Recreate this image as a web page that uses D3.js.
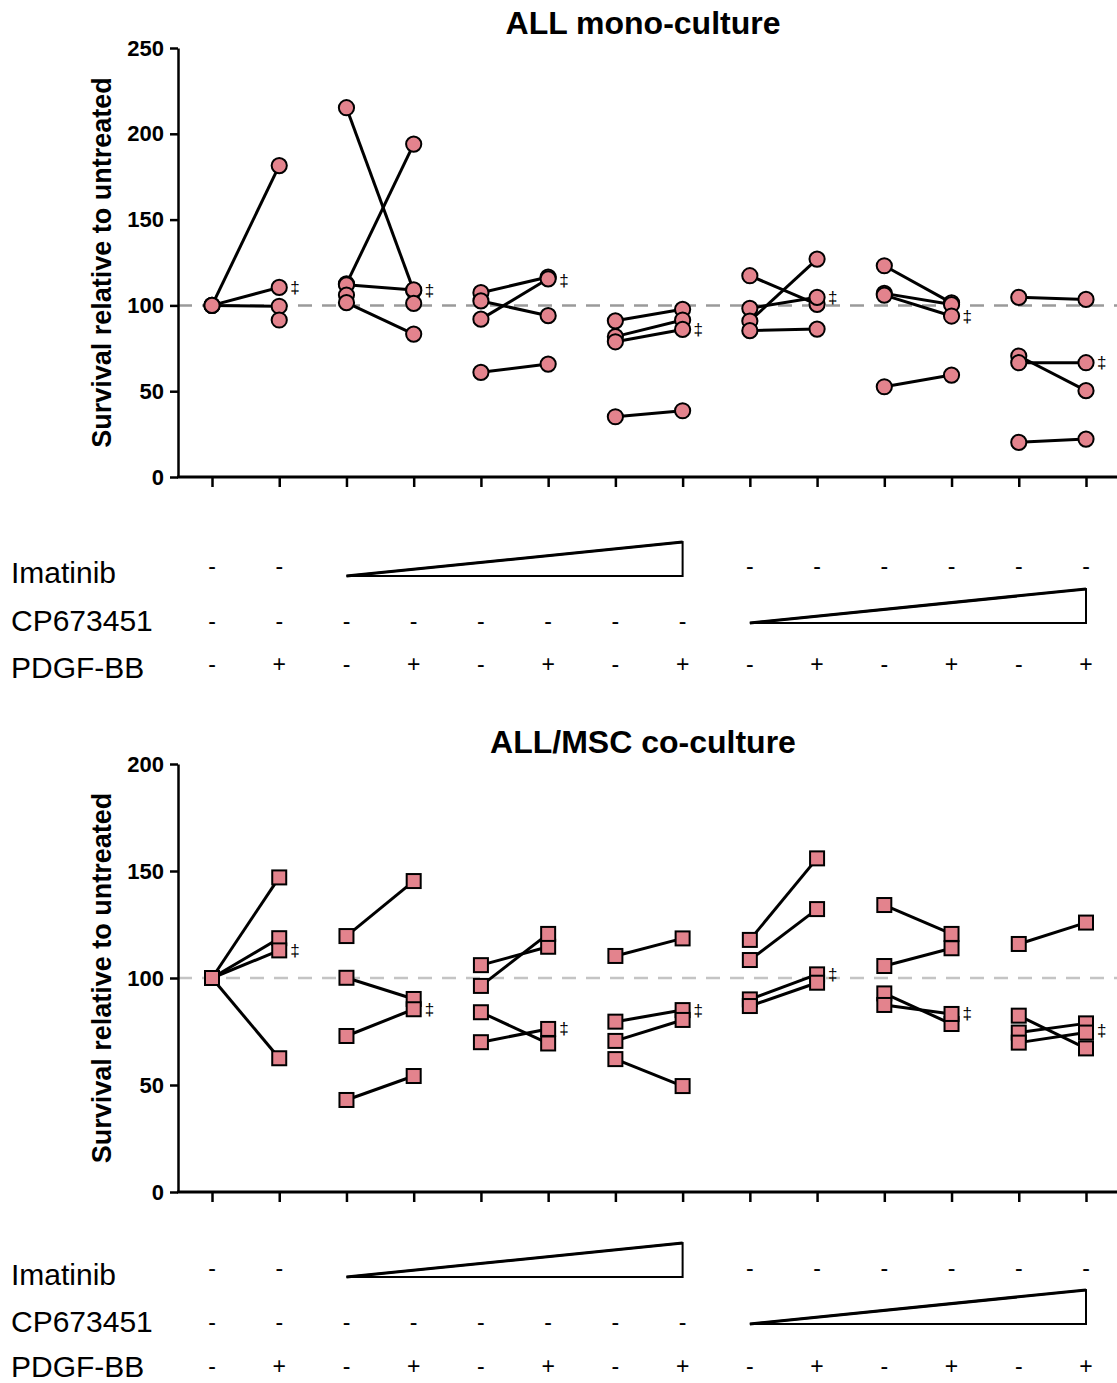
<!DOCTYPE html>
<html>
<head>
<meta charset="utf-8">
<script src="https://cdn.jsdelivr.net/npm/d3@7"></script>
<style>
  body { margin: 0; background: #fff; }
  svg { display: block; font-family: "Liberation Sans", Arial, sans-serif; }
  .tick text { font-weight: bold; font-size: 22px; fill: #000; }
</style>
</head>
<body>
<svg id="chart" width="1117" height="1383"></svg>
<script>
// conditions along the x axis (7 treatment groups, each - / + PDGF-BB)
const conditions = d3.range(14);
const imatinibRow = ["-", "-", "", "", "", "", "", "", "-", "-", "-", "-", "-", "-"];
const cpRow = ["-", "-", "-", "-", "-", "-", "-", "-", "", "", "", "", "", ""];
const pdgfRow = ["-", "+", "-", "+", "-", "+", "-", "+", "-", "+", "-", "+", "-", "+"];
const imatinibRamp = [2, 7];
const cpRamp = [8, 13];
const rowLabels = ["Imatinib", "CP673451", "PDGF-BB"];

// ALL mono-culture: per group, [without PDGF-BB, with PDGF-BB] per replicate
const monoPairs = [
  [[100, 181.5], [100, 110.5], [100, 99.5], [null, 91.5]],
  [[215.2, 108.6], [112.5, 194], [112, 109], [106, null], [101.6, 83.3], [null, 101.2]],
  [[107.4, 116.5], [92, 115.5], [102.6, 94], [61, 65.8]],
  [[91, 97.7], [81.8, 91.5], [78.8, 86], [35.1, 38.6]],
  [[117.3, 100.6], [98.3, 104.7], [90.9, 127], [85.3, 86.2]],
  [[123.1, 101.5], [107, 100.5], [106, 93.8], [52.6, 59.4]],
  [[104.7, 103.5], [70.5, 50.3], [66.6, 66.6], [20.2, 22.1]]
];
const monoDagger = [110.5, 108.6, 114.5, 86, 104.7, 93.8, 66.6];
const monoTicks = [0, 50, 100, 150, 200, 250];

// ALL/MSC co-culture
const coPairs = [
  [[100, 147], [100, 118.6], [100, 112.9], [100, 62.5]],
  [[119.6, 145.3], [100.1, 90.2], [72.9, 85.4], [43, 54.2]],
  [[106, 114.6], [96.3, 120.6], [84, 69.4], [70, 76.2]],
  [[110.3, 118.5], [79.6, 85], [70.6, 80.4], [62.1, 49.5]],
  [[117.8, 155.9], [108.4, 132.2], [90, 101.7], [86.9, 97.8]],
  [[134.1, 120.6], [105.6, 113.9], [92.8, 78.5], [87.4, 83.2]],
  [[115.9, 125.9], [82.4, 67.1], [74.5, 78.8], [69.8, 74.5]]
];
const coDagger = [112.9, 85.4, 76.2, 85, 101.7, 83.2, 75.4];
const coTicks = [0, 50, 100, 150, 200];

const pink = "#e3838d";
const svg = d3.select("#chart");
const x = d3.scalePoint().domain(conditions).range([212, 1086]);
const axisX = 178;

function drawPanel(cfg) {
    const g = svg.append("g");
    const y = d3.scaleLinear().domain([0, cfg.max]).range([cfg.bottom, cfg.top]);

    // reference line at 100
    g.append("line")
        .attr("x1", axisX).attr("x2", 1117)
        .attr("y1", y(100)).attr("y2", y(100))
        .attr("stroke", cfg.refColor).attr("stroke-width", 2.5)
        .attr("stroke-dasharray", "14,10");

    // y axis
    const ya = g.append("g")
        .attr("transform", `translate(${axisX},0)`)
        .call(d3.axisLeft(y).tickValues(cfg.ticks).tickSize(8).tickSizeOuter(0).tickPadding(6));
    ya.select(".domain").attr("stroke-width", 2.5);
    ya.selectAll(".tick line").attr("stroke-width", 2.5);

    // x axis
    const xa = g.append("g")
        .attr("transform", `translate(0,${cfg.bottom})`)
        .call(d3.axisBottom(x).tickFormat("").tickSize(10).tickSizeOuter(0));
    xa.select(".domain").remove();
    xa.selectAll(".tick line").attr("stroke-width", 2.5);
    xa.append("line")
        .attr("x1", axisX - 1).attr("x2", 1117)
        .attr("stroke", "#000").attr("stroke-width", 3);

    // title
    g.append("text")
        .attr("x", 643).attr("y", cfg.titleY)
        .attr("text-anchor", "middle")
        .style("font-weight", "bold").style("font-size", "32px")
        .text(cfg.title);

    // y label
    g.append("text")
        .attr("transform", `translate(111,${(cfg.top + cfg.bottom) / 2}) rotate(-90)`)
        .attr("text-anchor", "middle")
        .style("font-weight", "bold").style("font-size", "27px")
        .text("Survival relative to untreated");

    // connecting lines
    cfg.pairs.forEach((grp, gi) => {
        grp.filter(p => p[0] != null && p[1] != null).forEach(p => {
            g.append("line")
                .attr("x1", x(2 * gi)).attr("y1", y(p[0]))
                .attr("x2", x(2 * gi + 1)).attr("y2", y(p[1]))
                .attr("stroke", "#000").attr("stroke-width", 3);
        });
    });

    // markers
    cfg.pairs.forEach((grp, gi) => {
        grp.forEach(p => {
            p.forEach((v, k) => {
                if (v == null) return;
                const cx = x(2 * gi + k), cy = y(v);
                if (cfg.shape === "circle") {
                    g.append("circle")
                        .attr("cx", cx).attr("cy", cy).attr("r", 7.6)
                        .attr("fill", pink).attr("stroke", "#000").attr("stroke-width", 2);
                } else {
                    g.append("rect")
                        .attr("x", cx - 7).attr("y", cy - 7)
                        .attr("width", 14).attr("height", 14)
                        .attr("fill", pink).attr("stroke", "#000").attr("stroke-width", 2);
                }
            });
        });
    });

    // ‡ markers
    cfg.dagger.forEach((v, gi) => {
        g.append("text")
            .attr("x", x(2 * gi + 1) + 11).attr("y", y(v))
            .attr("dominant-baseline", "central")
            .attr("fill", "#000")
            .style("font-size", "17px")
            .text("\u2021");
    });

    // condition rows
    const rows = [imatinibRow, cpRow, pdgfRow];
    rows.forEach((row, ri) => {
        g.append("text")
            .attr("x", 11).attr("y", cfg.rowBase[ri])
            .style("font-size", "30px")
            .text(rowLabels[ri]);
        g.selectAll(null)
            .data(conditions.filter(c => row[c] !== ""))
            .enter().append("text")
            .attr("x", c => x(c)).attr("y", cfg.symY[ri])
            .attr("text-anchor", "middle")
            .attr("dominant-baseline", "central")
            .style("font-size", "23px")
            .text(c => row[c]);
    });

    // ramps
    [[imatinibRamp, 0], [cpRamp, 1]].forEach(([r, ri]) => {
        const x0 = x(r[0]), x1 = x(r[1]);
        const yb = cfg.rampBase[ri], yt = yb - 34;
        g.append("path")
            .attr("d", `M${x0},${yb}L${x1},${yt}L${x1},${yb}Z`)
            .attr("fill", "#fff").attr("stroke", "#000").attr("stroke-width", 2);
        g.append("line")
            .attr("x1", x0).attr("y1", yb).attr("x2", x1).attr("y2", yt)
            .attr("stroke", "#000").attr("stroke-width", 3);
    });
}

drawPanel({
    title: "ALL mono-culture", titleY: 34,
    max: 250, top: 48, bottom: 477, ticks: monoTicks,
    pairs: monoPairs, dagger: monoDagger, shape: "circle", refColor: "#9a9a9a",
    rowBase: [583, 631, 678], symY: [566, 621, 664], rampBase: [576, 623]
});

drawPanel({
    title: "ALL/MSC co-culture", titleY: 753,
    max: 200, top: 764, bottom: 1192, ticks: coTicks,
    pairs: coPairs, dagger: coDagger, shape: "square", refColor: "#c4c4c4",
    rowBase: [1285, 1332, 1377], symY: [1268, 1322, 1366], rampBase: [1277, 1324]
});
</script>
</body>
</html>
